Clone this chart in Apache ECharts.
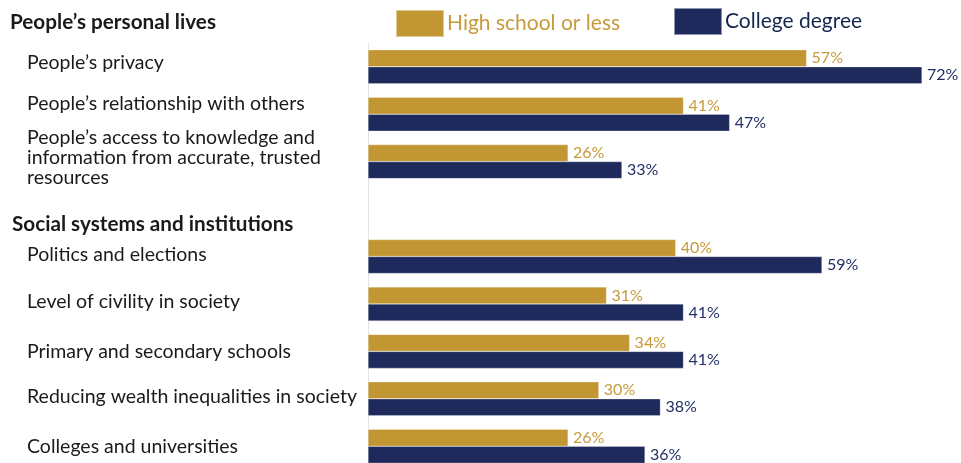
<!DOCTYPE html>
<html><head><meta charset="utf-8">
<script src="https://cdn.jsdelivr.net/npm/echarts@6/dist/echarts.min.js"></script>
<style>html,body{margin:0;padding:0;background:#fff}#c{width:961px;height:463px}</style>
</head><body><div id="c"></div>
<script>
const categories = [
  "People\u2019s privacy",
  "People\u2019s relationship with others",
  "People\u2019s access to knowledge and\ninformation from accurate, trusted\nresources",
  "",
  "Politics and elections",
  "Level of civility in society",
  "Primary and secondary schools",
  "Reducing wealth inequalities in society",
  "Colleges and universities"
];
const highSchool = [57, 41, 26, null, 40, 31, 34, 30, 26];
const college = [72, 47, 33, null, 59, 41, 41, 38, 36];
const seriesNames = ["High school or less", "College degree"];
const headers = ["People\u2019s personal lives", "Social systems and institutions"];
const labelLift = [4, 10, 4, 0, 2, 2, 0, 2, 0];

const GOLD = "#C29632", NAVY = "#1F2A5C";
const FONT = "Lato";
const rich = {};
[...new Set(labelLift)].forEach(v => { rich['s' + v] = {fontSize: 1, lineHeight: v * 2}; });
const chart = echarts.init(document.getElementById('c'), null, {renderer: 'canvas'});
chart.setOption({
  animation: false,
  textStyle: {fontFamily: FONT},
  grid: {left: 368, right: 39, top: 43, height: 427, containLabel: false, outerBoundsMode: 'none'},
  legend: [
    {data: [seriesNames[0]], left: 395, top: 9, padding: 0, icon: 'rect', itemWidth: 48, itemHeight: 27, itemGap: 0,
     textStyle: {color: "#C69A3A", fontSize: 21, fontFamily: FONT, padding: [0,0,0,-2]}},
    {data: [seriesNames[1]], left: 673, top: 7, padding: 0, icon: 'rect', itemWidth: 48, itemHeight: 27, itemGap: 0,
     textStyle: {color: "#13264D", fontSize: 21, fontFamily: FONT, padding: [0,0,0,-2]}}
  ],
  xAxis: {type: 'value', min: 0, max: 72, show: false},
  yAxis: {
    type: 'category', inverse: true,
    data: categories,
    axisLine: {show: true, lineStyle: {color: '#e3e3e3', width: 1}},
    axisTick: {show: false},
    axisLabel: {
      align: 'left', margin: 341, fontSize: 19.5, color: '#1a1a1a', lineHeight: 20, fontFamily: FONT,
      formatter: (v, i) => labelLift[i] ? v + '\n{s' + labelLift[i] + '| }' : v,
      rich: rich
    }
  },
  series: [
    {name: seriesNames[0], type: 'bar', data: highSchool, barWidth: 17, barGap: '0%',
     itemStyle: {color: GOLD, borderColor: 'rgba(255,255,255,0.5)', borderWidth: 0.5},
     label: {show: true, position: 'right', distance: 5, formatter: '{c}%', color: '#C69A3A', fontSize: 16, fontFamily: FONT}},
    {name: seriesNames[1], type: 'bar', data: college, barWidth: 17,
     itemStyle: {color: NAVY, borderColor: 'rgba(255,255,255,0.5)', borderWidth: 0.5},
     label: {show: true, position: 'right', distance: 5, formatter: '{c}%', color: '#243064', fontSize: 16, fontFamily: FONT}}
  ],
  graphic: [
    {type: 'text', left: 10, top: 12, style: {text: headers[0], font: 'bold 20.7px ' + FONT, fill: '#1a1a1a'}},
    {type: 'text', left: 12, top: 214, style: {text: headers[1], font: 'bold 20.7px ' + FONT, fill: '#1a1a1a'}}
  ]
});
</script></body></html>
